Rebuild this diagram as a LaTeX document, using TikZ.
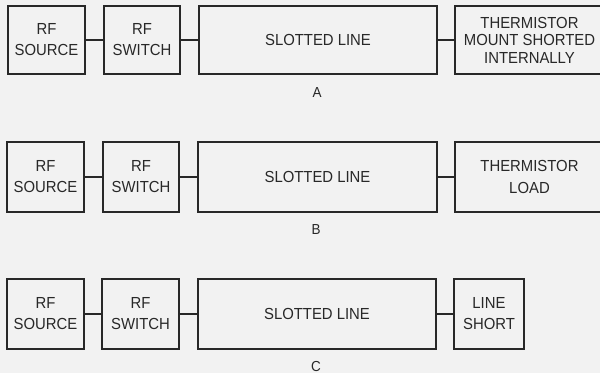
\documentclass[tikz,border=0pt]{standalone}
\usepackage{fontspec}
\setmainfont[FakeStretch=0.93]{Liberation Sans}
\definecolor{paper}{RGB}{242,242,242}
\definecolor{ink}{RGB}{40,40,40}
\begin{document}
\begin{tikzpicture}[x=1bp,y=-1bp,
  blk/.style={draw=ink, line width=1.2bp, rectangle, inner sep=0pt, align=center,
    text=ink, font=\fontsize{16bp}{21bp}\selectfont},
  wire/.style={draw=ink, line width=1.2bp},
  caption/.style={text=ink, font=\fontsize{14.5bp}{16bp}\selectfont}]
\useasboundingbox[fill=paper] (0,0) rectangle (600,373);

% --- arrangement A ---
\node[blk, minimum width=77bp, minimum height=68bp] (srcA) at (46.5,40) {RF\\SOURCE};
\node[blk, minimum width=76bp, minimum height=68bp] (swA) at (142,40) {RF\\SWITCH};
\node[blk, minimum width=238bp, minimum height=68bp] (slA) at (318,40) {SLOTTED LINE};
\node[blk, minimum width=149bp, minimum height=68bp,
  font=\fontsize{16bp}{17.5bp}\selectfont] (thA) at (529.5,40)
  {THERMISTOR\\MOUNT SHORTED\\INTERNALLY};
\draw[wire] (srcA) -- (swA);
\draw[wire] (swA) -- (slA);
\draw[wire] (slA) -- (thA);
\node[caption] (labA) at (317,92.5) {A};

% --- arrangement B ---
\node[blk, minimum width=77bp, minimum height=70bp] (srcB) at (45.5,177) {RF\\SOURCE};
\node[blk, minimum width=76bp, minimum height=70bp] (swB) at (141,177) {RF\\SWITCH};
\node[blk, minimum width=239bp, minimum height=70bp] (slB) at (317.5,177) {SLOTTED LINE};
\node[blk, minimum width=149bp, minimum height=70bp,
  font=\fontsize{16bp}{22.5bp}\selectfont] (thB) at (529.5,177)
  {THERMISTOR\\LOAD};
\draw[wire] (srcB) -- (swB);
\draw[wire] (swB) -- (slB);
\draw[wire] (slB) -- (thB);
\node[caption] (labB) at (316,229.5) {B};

% --- arrangement C ---
\node[blk, minimum width=77bp, minimum height=70bp] (srcC) at (45.5,314) {RF\\SOURCE};
\node[blk, minimum width=77bp, minimum height=70bp] (swC) at (140.5,314) {RF\\SWITCH};
\node[blk, minimum width=238bp, minimum height=70bp] (slC) at (317,314) {SLOTTED LINE};
\node[blk, minimum width=70bp, minimum height=70bp] (shC) at (489,314) {LINE\\SHORT};
\draw[wire] (srcC) -- (swC);
\draw[wire] (swC) -- (slC);
\draw[wire] (slC) -- (shC);
\node[caption] (labC) at (316,366) {C};
\end{tikzpicture}
\end{document}
